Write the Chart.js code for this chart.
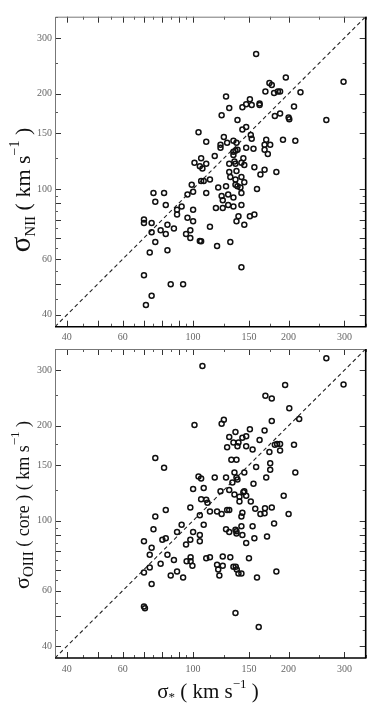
<!DOCTYPE html>
<html><head><meta charset="utf-8">
<script src="https://cdn.jsdelivr.net/npm/chart.js@4.4.0/dist/chart.umd.min.js"></script>
<style>
html,body{margin:0;padding:0;background:#fff;width:382px;height:713px;overflow:hidden;position:relative}
canvas{position:absolute;left:0}
#c1{top:0}
#c2{top:340px}
</style></head><body>
<canvas id="c1" width="382" height="345"></canvas>
<canvas id="c2" width="382" height="373"></canvas>
<script>
// ---- tick values ----
const tickLabels = [40, 60, 100, 150, 200, 300];
const majorTicks = [40, 50, 60, 70, 80, 90, 100, 150, 200, 300];
const minorTicks = [45, 55, 65, 75, 85, 95, 125, 175, 250, 350];
const axisMin = 36.7, axisMax = 350;
const oneToOne = [36.7, 350];

// ---- top panel: sigma_* vs sigma_NII ----
const starNII = [158,196,174,177,298,169,180,185,188,218,
  127,151,147,153,143,162,162,130,208,123,
  181,188,138,200,201,263,147,143,104,152,
  153,125,192,210,170,110,122,122,128,134,
  137,147,155,168,175,168,134,136,138,172,
  117,106,134,144,101,105,110,107,130,135,
  136,142,145,156,137,130,168,163,183,106,
  108,113,131,142,136,145,99,120,127,136,
  138,141,159,75,81,100,110,96,129,142,
  134,76,82,123,124,142,92,89,89,118,
  124,129,134,96,100,100,139,151,156,70,
  70,74,83,87,79,82,74,113,137,145,
  95,98,98,105,106,76,83,73,119,131,
  142,70,85,93,74,71];
const sigNII = [267,225,216,213,218,203,201,203,203,202,
  196,192,185,184,181,186,184,180,182,171,
  170,173,165,168,166,165,157,154,151,148,
  144,146,143,142,143,141,138,135,140,142,
  140,135,134,138,138,133,131,132,133,129,
  127,125,128,125,121,118,120,116,120,122,
  120,121,119,117,114,113,115,111,113,106,
  106,107,109,109,107,105,103,101,102,103,
  102,101,100,97,97,98,97,96,96,97,
  94,91,89,95,92,89,88,86,83,87,
  87,89,88,81,86,79,82,82,83,80,
  78,78,77,75,74,72,73,76,79,77,
  72,74,70,68.5,68.3,68,64,63,66,68,
  56.6,53.4,50,50,46,43];

// ---- bottom panel: sigma_* vs sigma_OIII(core) ----
const starOIII = [263,107,195,298,169,177,201,216,177,101,
  123,125,136,151,168,130,143,147,162,134,
  139,128,138,147,154,174,181,184,188,188,
  208,76,81,132,137,158,175,175,104,106,
  117,127,135,137,138,145,133,155,170,210,
  100,108,122,130,135,140,144,145,147,140,
  106,110,111,113,98,119,123,128,130,105,
  143,142,152,157,163,168.5,168,177,200,180,
  76,82,75,92,89,100,108,105,105,98,
  95,70,80,82,74,73,83,87,95.4,98.2,
  98.2,99.5,79,73,70,74,85,89,93,70,
  70.5,110,113,124,131,119,124,120,121,134,
  136.3,137.3,139,142,150,159,183,136,161,147,
  143,137,136,137,127,130,142,154,156,171,
  193];
const sigOIII = [327,309,269,270,249,244,227,210,207,201,
  203,209,191,195,193,184,183,185,180,177,
  177,171,172,172,168,165,174,175,175,167,
  174,158,147,156,156,148,152,145,138,136,
  137,137,142,137,135,142,132,131,137,142,
  126,127,124,125,121,119,123,124,120,115,
  117,116.5,114,107,110,107,105,108,108,104,
  106,103,115,109,105,109.5,105.5,110,105,98,
  103,108,94,97,92,92,97,90,86,87,
  84,86,87,88,82,78,78,75,74.3,76.5,
  74.3,72,73,71,68.5,63,67,69,66,53.4,
  52.8,76,76.5,77,76.5,72.5,72,70,67,71.4,
  71.4,70,68,68,76,66,69,51,46,85,
  90,91,93.5,92.5,94,92,96,96,88,89,
  120];

const FONT = '"Liberation Serif", "Times New Roman", serif';

function toPts(xs, ys){ return xs.map((x,i)=>({x:x, y:ys[i]})); }

function drawTitle(ctx, parts, cx, cy, rotate){
  ctx.save();
  ctx.translate(cx, cy);
  if (rotate) ctx.rotate(-Math.PI/2);
  let total = 0;
  parts.forEach(p=>{ ctx.font = p.size+'px '+FONT; p.w = ctx.measureText(p.t).width; total += p.w; });
  let x = -total/2;
  ctx.fillStyle = '#111';
  ctx.textBaseline = 'alphabetic';
  ctx.textAlign = 'left';
  parts.forEach(p=>{ ctx.font = p.size+'px '+FONT; ctx.fillText(p.t, x, p.dy); x += p.w; });
  ctx.restore();
}

function framePlugin(titles){
  return {
    id:'frameTicks',
    afterDraw(chart){
      const ctx = chart.ctx, a = chart.chartArea;
      const xs = chart.scales.x, ys = chart.scales.y;
      ctx.save();
      const tick = (vals, len, col, w) => {
        ctx.strokeStyle = col; ctx.lineWidth = w;
        ctx.beginPath();
        vals.forEach(v=>{
          if (v < axisMin || v > axisMax) return;
          const px = Math.round(xs.getPixelForValue(v)) + 0.5;
          ctx.moveTo(px, a.bottom); ctx.lineTo(px, a.bottom - len);
          ctx.moveTo(px, a.top); ctx.lineTo(px, a.top + len);
          const py = Math.round(ys.getPixelForValue(v)) + 0.5;
          ctx.moveTo(a.left, py); ctx.lineTo(a.left + len, py);
          ctx.moveTo(a.right, py); ctx.lineTo(a.right - len, py);
        });
        ctx.stroke();
      };
      tick(majorTicks, 6, '#333', 1);
      tick(minorTicks, 3, '#555', 1);
      ctx.lineWidth = 1; ctx.strokeStyle = '#777';
      ctx.beginPath();
      ctx.moveTo(a.left+0.5, a.bottom); ctx.lineTo(a.left+0.5, a.top+0.5); ctx.lineTo(a.right, a.top+0.5);
      ctx.stroke();
      ctx.lineWidth = 1.6; ctx.strokeStyle = '#000';
      ctx.beginPath();
      ctx.moveTo(a.right, a.top); ctx.lineTo(a.right, a.bottom); ctx.lineTo(a.left, a.bottom);
      ctx.stroke();
      ctx.restore();
      titles.forEach(t => drawTitle(ctx, t.parts, t.x, t.y, t.rotate));
    }
  };
}

function makeChart(id, xs, ys, padTop, xAxisH, titles){
  return new Chart(document.getElementById(id), {
    data:{
      datasets:[
        { type:'line', data: oneToOne.map(v=>({x:v, y:v})), borderColor:'#222', borderWidth:1.1,
          borderDash:[4,3], pointRadius:0, fill:false, order:2 },
        { type:'scatter', data: toPts(xs, ys), pointStyle:'circle', pointRadius:2.5,
          borderWidth:1.5, borderColor:'#111', backgroundColor:'rgba(0,0,0,0)', order:1 }
      ]
    },
    options:{
      responsive:false, animation:false, devicePixelRatio:1,
      layout:{ padding:{ left:0, right:16.3, top:padTop, bottom:0 } },
      plugins:{ legend:{display:false}, tooltip:{enabled:false} },
      scales:{
        x:{ type:'logarithmic', position:'bottom', min:axisMin, max:axisMax,
            grid:{display:false, drawTicks:false}, border:{display:false},
            ticks:{ font:{family:FONT, size:10}, color:'#666', padding:5, autoSkip:false, maxRotation:0,
                    callback:(v)=>String(v) },
            afterBuildTicks:(s)=>{ s.ticks = tickLabels.map(v=>({value:v})); },
            afterFit:(s)=>{ s.height = xAxisH; } },
        y:{ type:'logarithmic', position:'left', min:axisMin, max:axisMax,
            grid:{display:false, drawTicks:false}, border:{display:false},
            ticks:{ font:{family:FONT, size:10}, color:'#666', padding:3, autoSkip:false,
                    callback:(v)=>String(v) },
            afterBuildTicks:(s)=>{ s.ticks = tickLabels.map(v=>({value:v})); },
            afterFit:(s)=>{ s.width = 55; } }
      }
    },
    plugins:[framePlugin(titles)]
  });
}

makeChart('c1', starNII, sigNII, 16.7, 18.3, [
  { rotate:true, x:22, y:190, parts:[
    {t:'σ', size:29, dy:8},
    {t:'NII', size:15, dy:13},
    {t:' ( km s', size:22, dy:8},
    {t:'−1', size:14, dy:-3},
    {t:' )', size:22, dy:8} ] }
]);

makeChart('c2', starOIII, sigOIII, 6, 55, [
  { rotate:true, x:22, y:165, parts:[
    {t:'σ', size:22, dy:7},
    {t:'OIII', size:15, dy:11},
    {t:' ( core ) ( km s', size:18, dy:7},
    {t:'−1', size:13, dy:-3},
    {t:' )', size:18, dy:7} ] },
  { rotate:false, x:208, y:351, parts:[
    {t:'σ', size:21, dy:7},
    {t:'*', size:13, dy:10},
    {t:' ( km s', size:21, dy:7},
    {t:'−1', size:13, dy:-3},
    {t:' )', size:21, dy:7} ] }
]);
</script>
</body></html>
